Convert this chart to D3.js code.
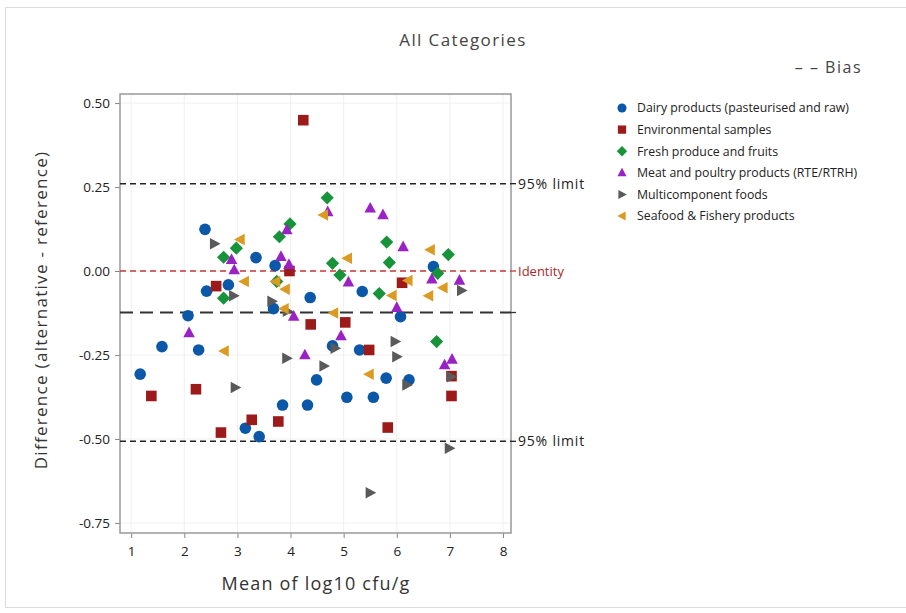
<!DOCTYPE html>
<html><head><meta charset="utf-8">
<script src="https://cdn.jsdelivr.net/npm/d3@7"></script>
<style>body{margin:0;background:#fff;} text{font-family:"Open Sans","Noto Sans",sans-serif;}</style>
</head><body>
<svg id="chart" width="906" height="613"></svg>
<script>
const categories = ["Dairy products (pasteurised and raw)","Environmental samples","Fresh produce and fruits","Meat and poultry products (RTE/RTRH)","Multicomponent foods","Seafood & Fishery products"];
const dairy = [[1.17,-0.307],[1.58,-0.225],[2.07,-0.133],[2.27,-0.235],[2.39,0.124],[2.42,-0.060],[2.83,-0.041],[3.15,-0.468],[3.35,0.040],[3.41,-0.493],[3.68,-0.112],[3.71,0.016],[3.85,-0.399],[4.32,-0.399],[4.37,-0.079],[4.49,-0.324],[4.79,-0.223],[5.06,-0.376],[5.30,-0.235],[5.35,-0.061],[5.56,-0.376],[5.80,-0.319],[6.07,-0.136],[6.23,-0.324],[6.69,0.013]];
const environmental = [[1.38,-0.372],[2.22,-0.352],[2.60,-0.045],[2.69,-0.481],[3.27,-0.443],[3.77,-0.448],[3.98,0.000],[4.24,0.449],[4.38,-0.159],[5.03,-0.153],[5.48,-0.235],[5.83,-0.466],[6.10,-0.035],[7.03,-0.313],[7.03,-0.372]];
const fresh = [[2.74,0.041],[2.74,-0.081],[2.98,0.068],[3.74,-0.031],[3.79,0.102],[3.99,0.140],[4.69,0.218],[4.79,0.023],[4.93,-0.012],[5.67,-0.067],[5.81,0.086],[5.86,0.025],[6.75,-0.210],[6.77,-0.007],[6.97,0.049]];
const meat = [[2.09,-0.184],[2.89,0.034],[2.94,0.003],[3.82,0.043],[3.93,0.122],[3.97,0.019],[4.06,-0.135],[4.27,-0.250],[4.70,0.176],[4.95,-0.193],[5.09,-0.033],[5.50,0.187],[5.74,0.167],[6.00,-0.109],[6.12,0.072],[6.66,-0.024],[6.90,-0.280],[7.04,-0.263],[7.18,-0.028]];
const multicomponent = [[2.57,0.081],[2.93,-0.074],[2.96,-0.347],[3.65,-0.090],[3.94,-0.120],[3.93,-0.260],[4.63,-0.283],[4.84,-0.230],[5.50,-0.660],[5.97,-0.210],[6.00,-0.255],[6.19,-0.339],[6.99,-0.528],[7.03,-0.315],[7.22,-0.058]];
const seafood = [[2.75,-0.238],[3.05,0.094],[3.13,-0.031],[3.72,-0.031],[3.88,-0.112],[3.90,-0.054],[4.62,0.167],[4.81,-0.125],[5.07,0.038],[5.48,-0.307],[5.91,-0.073],[6.21,-0.028],[6.60,-0.074],[6.63,0.063],[6.87,-0.050]];
const xTicks = [1,2,3,4,5,6,7,8];
const yTicks = [0.50,0.25,0.00,-0.25,-0.50,-0.75];
const bias = -0.1235, upperLimit = 0.26, lowerLimit = -0.507, identity = 0;

const series = [dairy, environmental, fresh, meat, multicomponent, seafood];
const colors = ["#0B57A8","#9C1A1A","#17933A","#9A22C4","#5A5A5A","#DB9A22"];
const symbols = ["circle","square","diamond","up","right","left"];

const svg = d3.select("#chart");
const L = 120, R = 511, T = 94, B = 533;
const x = d3.scaleLinear().domain([0.79, 8.15]).range([L, R]);
const y = d3.scaleLinear().domain([-0.78, 0.527]).range([B, T]);

// outer border
svg.append("rect").attr("x",5.5).attr("y",7.5).attr("width",920).attr("height",600).attr("fill","none").attr("stroke","#dcdcdc");

// gridlines
svg.append("g").selectAll("line").data(xTicks).join("line")
  .attr("x1",d=>x(d)).attr("x2",d=>x(d)).attr("y1",T).attr("y2",B).attr("stroke","#f0f0f0");
svg.append("g").selectAll("line").data(yTicks).join("line")
  .attr("y1",d=>y(d)).attr("y2",d=>y(d)).attr("x1",L).attr("x2",R).attr("stroke","#f0f0f0");

// axes
const fmtY = d => d3.format(".2f")(d).replace("−","-");
const xAxis = svg.append("g").attr("transform",`translate(0,${B})`)
  .call(d3.axisBottom(x).tickValues(xTicks).tickFormat(d3.format("d")).tickSize(5).tickPadding(8));
const yAxis = svg.append("g").attr("transform",`translate(${L},0)`)
  .call(d3.axisLeft(y).tickValues(yTicks).tickFormat(fmtY).tickSize(5).tickPadding(5));
[xAxis,yAxis].forEach(g=>{
  g.select(".domain").remove();
  g.selectAll(".tick line").attr("stroke","#888");
  g.selectAll(".tick text").attr("fill","#222").style("font-size","13.5px").style("font-family","'Open Sans',sans-serif");
});

// frame
svg.append("rect").attr("x",L).attr("y",T).attr("width",R-L).attr("height",B-T)
  .attr("fill","none").attr("stroke","#999").attr("stroke-width",1.5);

// reference lines
const refs = [
  {v:upperLimit, color:"#222", dash:"6,4", w:1.6, label:"95% limit", tc:"#222", fs:"14px", ls:"0.8px"},
  {v:identity, color:"#C8383A", dash:"6,4", w:1.4, label:"Identity", tc:"#A8282A", fs:"13px", ls:"0px"},
  {v:bias, color:"#333", dash:"13,7", w:2, label:null},
  {v:lowerLimit, color:"#222", dash:"6,4", w:1.6, label:"95% limit", tc:"#222", fs:"14px", ls:"0.8px"}
];
refs.forEach(r=>{
  svg.append("line").attr("x1",L).attr("x2",R).attr("y1",y(r.v)).attr("y2",y(r.v))
    .attr("stroke",r.color).attr("stroke-dasharray",r.dash).attr("stroke-width",r.w);
  svg.append("line").attr("x1",R).attr("x2",R+5).attr("y1",y(r.v)).attr("y2",y(r.v))
    .attr("stroke",r.label ? r.color : "#333").attr("stroke-width",1.3);
  if(r.label) svg.append("text").attr("x",R+7).attr("y",y(r.v)).attr("dy","0.35em")
    .attr("fill",r.tc).style("font-size",r.fs).style("letter-spacing",r.ls).text(r.label);
});

function symPath(type, s){
  if(type==="circle") return d3.symbol(d3.symbolCircle, s*s*0.8)();
  if(type==="square") return d3.symbol(d3.symbolSquare, s*s*0.85)();
  const h = s/2;
  if(type==="diamond") return `M0,${-h*1.15}L${h*1.15},0L0,${h*1.15}L${-h*1.15},0Z`;
  if(type==="up") return `M0,${-h*1.1}L${h},${h*0.75}L${-h},${h*0.75}Z`;
  if(type==="right") return `M${h*1.05},0L${-h*0.8},${h}L${-h*0.8},${-h}Z`;
  if(type==="left") return `M${-h*1.05},0L${h*0.8},${h}L${h*0.8},${-h}Z`;
}

// points
series.forEach((data,i)=>{
  svg.append("g").selectAll("path").data(data).join("path")
    .attr("transform",d=>`translate(${x(d[0])},${y(d[1])})`)
    .attr("d",symPath(symbols[i],11.5))
    .attr("fill",colors[i]);
});

// title
svg.append("text").attr("x",463).attr("y",46).attr("text-anchor","middle").attr("fill","#444")
  .style("font-size","17px").style("letter-spacing","1.4px").text("All Categories");
svg.append("text").attr("x",862).attr("y",73).attr("text-anchor","end").attr("fill","#444")
  .style("font-size","16px").style("letter-spacing","1.5px").text("– – Bias");

// axis titles
svg.append("text").attr("x",316).attr("y",590).attr("text-anchor","middle").attr("fill","#333")
  .style("font-size","18px").style("letter-spacing","1.2px").text("Mean of log10 cfu/g");
svg.append("text").attr("transform",`translate(47,310) rotate(-90)`).attr("text-anchor","middle").attr("fill","#333")
  .style("font-size","17px").style("letter-spacing","1.3px").text("Difference (alternative - reference)");

// legend
const lg = svg.append("g").attr("transform","translate(622,108)");
categories.forEach((c,i)=>{
  const g = lg.append("g").attr("transform",`translate(0,${i*21.6})`);
  g.append("path").attr("d",symPath(symbols[i],9)).attr("fill",colors[i]);
  g.append("text").attr("x",15).attr("dy","0.35em").attr("fill","#222")
    .style("font-size","12.3px").text(c);
});
</script>
</body></html>
